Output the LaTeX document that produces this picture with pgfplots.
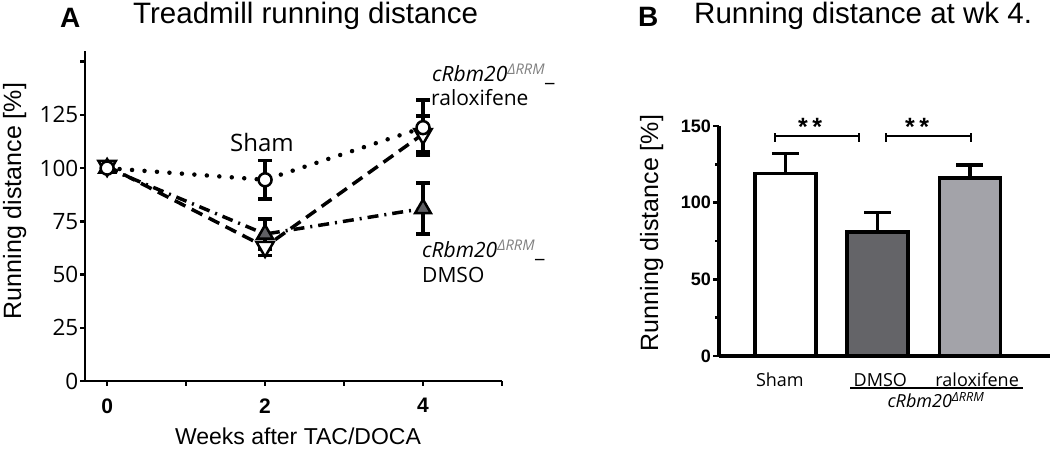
\documentclass[border=0pt]{standalone}
\usepackage{pgfplots}
\pgfplotsset{compat=1.18}
\usepackage{fontspec}
\setmainfont{Open Sans}
\newfontfamily\arialf{Liberation Sans}
\definecolor{dgray}{HTML}{646468}
\definecolor{lgray}{HTML}{A3A3A9}
\definecolor{mgray}{HTML}{606064}
\begin{document}
\begin{tikzpicture}[x=1pt,y=1pt]
\useasboundingbox (0,0) rectangle (1050,449);
% ---------------- Panel A ----------------
\begin{axis}[
  at={(85pt,68pt)}, anchor=south west,
  scale only axis, width=417pt, height=330pt,
  xmin=-0.28, xmax=5, ymin=0, ymax=155,
  clip=false,
  axis x line*=bottom, axis y line*=left,
  axis line style={line width=2.8pt,-},
  tick style={line width=2.5pt,black},
  tick align=outside, major tick length=5pt, minor tick length=5pt,
  xtick={0,2,4}, xticklabels={0,2,4}, minor xtick={1,3,5},
  ytick={0,25,50,75,100,125,150}, yticklabels={0,25,50,75,100,125,},
  yticklabel style={font=\fontsize{22.5}{22.5}\selectfont, inner sep=1.5pt},
  xticklabel style={font=\arialf\bfseries\fontsize{21}{21}\selectfont, yshift=-9pt},
]
% raloxifene (triangle down, dashed)
\addplot[black, line width=3.5pt, dash pattern=on 12pt off 7pt,
  mark=triangle*, mark size=10pt,
  mark options={solid, rotate=180, fill=white, draw=black, line width=2.5pt},
  error bars/.cd, y dir=both, y explicit,
  error bar style={solid, line width=3.5pt, black},
  error mark options={solid, rotate=90, mark size=7pt, line width=3.5pt, black}]
  coordinates {(0,101) +- (0,2) (2,63) +- (0,4) (4,116) +- (0,8.5)};
% DMSO (triangle up, dash-dot)
\addplot[black, line width=3.5pt, dash pattern=on 11pt off 6pt on 2pt off 6pt,
  mark=triangle*, mark size=9pt,
  mark options={solid, fill=mgray, draw=black, line width=2.5pt},
  error bars/.cd, y dir=both, y explicit,
  error bar style={solid, line width=3.5pt, black},
  error mark options={solid, rotate=90, mark size=7pt, line width=3.5pt, black}]
  coordinates {(0,100) +- (0,2) (2,69) +- (0,7) (4,81) +- (0,12)};
% Sham (circle, dotted)
\addplot[black, line width=4.5pt, dash pattern=on 0pt off 12.5pt, line cap=round,
  mark=*, mark size=6.5pt,
  mark options={solid, fill=white, draw=black, line width=2.5pt},
  error bars/.cd, y dir=both, y explicit,
  error bar style={solid, line width=3.5pt, black, line cap=butt},
  error mark options={solid, rotate=90, mark size=7pt, line width=3.5pt, black, line cap=butt}]
  coordinates {(0,100) +- (0,2) (2,94.5) +- (0,9) (4,119) +- (0,13)};
\end{axis}
\node[anchor=base, font=\fontsize{24}{24}\selectfont] at (262,297) {Sham};
\node[anchor=base west, inner sep=0pt, font=\fontsize{21}{21}\selectfont] at (432,367) {\textit{cRbm20}\textsuperscript{\textcolor{gray}{\textit{ΔRRM}}}\_};
\node[anchor=base west, inner sep=0pt, font=\fontsize{21}{21}\selectfont] at (431,343) {raloxifene};
\node[anchor=base west, inner sep=0pt, font=\fontsize{21}{21}\selectfont] at (422,191) {\textit{cRbm20}\textsuperscript{\textcolor{gray}{\textit{ΔRRM}}}\_};
\node[anchor=base west, inner sep=0pt, font=\fontsize{21}{21}\selectfont] at (422,166) {DMSO};
\node[anchor=base, inner sep=0pt, font=\arialf\fontsize{23}{23}\selectfont] at (298,4) {Weeks after TAC/DOCA};
\node[rotate=90, anchor=base, inner sep=0pt, font=\arialf\fontsize{25}{25}\selectfont] at (21,248) {Running distance [\%]};
\node[anchor=base west, inner sep=0pt, font=\arialf\bfseries\fontsize{28}{28}\selectfont] at (60,421) {A};
\node[anchor=base west, inner sep=0pt, font=\arialf\fontsize{29.5}{29.5}\selectfont] at (133,425) {Treadmill running distance};
% ---------------- Panel B ----------------
\begin{axis}[
  at={(719pt,93pt)}, anchor=south west,
  scale only axis, width=331pt, height=230pt,
  xmin=-0.72, xmax=2.87, ymin=0, ymax=150,
  clip=false,
  axis x line*=bottom, axis y line*=left,
  axis line style={line width=3.5pt,-},
  tick style={line width=2.5pt,black},
  tick align=outside, major tick length=6pt, minor tick length=4pt,
  ytick={0,50,100,150}, yticklabels={0,50,100,150}, minor ytick={25,75,125},
  yticklabel style={font=\arialf\bfseries\fontsize{18}{18}\selectfont, inner sep=2pt},
  xtick={-0.06,1.03,2.08}, xticklabels={Sham,DMSO,raloxifene},
  x tick style={draw=none}, xtick pos=bottom,
  xticklabel style={font=\fontsize{18}{18}\selectfont, anchor=base, yshift=-25pt},
]
\addplot[ybar, bar width=61pt, bar shift=0pt, fill=white, draw=black, line width=3.5pt,
  error bars/.cd, y dir=plus, y explicit,
  error bar style={line width=3.5pt, black},
  error mark options={rotate=90, mark size=13.5pt, line width=3.5pt, black}]
  coordinates {(0,119) +- (0,13)};
\addplot[ybar, bar width=61pt, bar shift=0pt, fill=dgray, draw=black, line width=3.5pt,
  error bars/.cd, y dir=plus, y explicit,
  error bar style={line width=3.5pt, black},
  error mark options={rotate=90, mark size=13.5pt, line width=3.5pt, black}]
  coordinates {(1,81) +- (0,12.5)};
\addplot[ybar, bar width=61pt, bar shift=0pt, fill=lgray, draw=black, line width=3.5pt,
  error bars/.cd, y dir=plus, y explicit,
  error bar style={line width=3.5pt, black},
  error mark options={rotate=90, mark size=13.5pt, line width=3.5pt, black}]
  coordinates {(2,116) +- (0,8.5)};
\end{axis}
% significance brackets
\draw[line width=1.4pt] (775,313) -- (859,313);
\draw[line width=2.5pt] (775,307) -- (775,316);
\draw[line width=2.5pt] (859,307) -- (859,316);
\draw[line width=1.4pt] (886,313) -- (971,313);
\draw[line width=2.5pt] (886,307) -- (886,316);
\draw[line width=2.5pt] (971,307) -- (971,316);
\node[anchor=base, inner sep=0pt, font=\arialf\bfseries\fontsize{25}{25}\selectfont] at (810,313) {*\hspace{4.5pt}*};
\node[anchor=base, inner sep=0pt, font=\arialf\bfseries\fontsize{25}{25}\selectfont] at (917,313) {*\hspace{4.5pt}*};
% group line
\draw[line width=1.2pt] (850,61) -- (1023,61);
\node[anchor=base, inner sep=0pt, font=\fontsize{18}{18}\selectfont] at (936,41) {\textit{cRbm20}\textsuperscript{\textit{ΔRRM}}};
\node[rotate=90, anchor=base, inner sep=0pt, font=\arialf\fontsize{25}{25}\selectfont] at (658,216) {Running distance [\%]};
\node[anchor=base west, inner sep=0pt, font=\arialf\bfseries\fontsize{28}{28}\selectfont] at (638,422) {B};
\node[anchor=base west, inner sep=0pt, font=\arialf\fontsize{29.5}{29.5}\selectfont] at (694,425) {Running distance at wk 4.};
\end{tikzpicture}
\end{document}
